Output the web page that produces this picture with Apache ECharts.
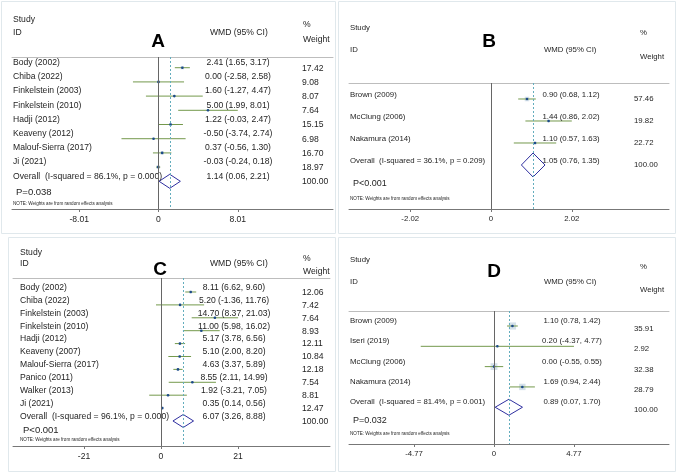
<!DOCTYPE html>
<html>
<head>
<meta charset="utf-8">
<script src="https://cdn.jsdelivr.net/npm/echarts@6/dist/echarts.min.js"></script>
<style>
html,body{margin:0;padding:0;background:#fff;}
#chart{width:677px;height:473px;}
</style>
</head>
<body>
<div id="chart"></div>
<script>
// ---------- Panel A ----------
const studiesA = ['Body (2002)','Chiba (2022)','Finkelstein (2003)','Finkelstein (2010)','Hadji (2012)','Keaveny (2012)','Malouf-Sierra (2017)','Ji (2021)'];
const wmdA  = [2.41, 0.00, 1.60, 5.00, 1.22, -0.50, 0.37, -0.03];
const lowA  = [1.65, -2.58, -1.27, 1.99, -0.03, -3.74, -0.56, -0.24];
const highA = [3.17, 2.58, 4.47, 8.01, 2.47, 2.74, 1.30, 0.18];
const weightA = [17.42, 9.08, 8.07, 7.64, 15.15, 6.98, 16.70, 18.97];
const overallA = [1.14, 0.06, 2.21];
const hetA = 'Overall  (I-squared = 86.1%, p = 0.000)';
const pA = 'P=0.038';
const ticksA = [-8.01, 0, 8.01];

// ---------- Panel B ----------
const studiesB = ['Brown (2009)','McClung (2006)','Nakamura (2014)'];
const wmdB  = [0.90, 1.44, 1.10];
const lowB  = [0.68, 0.86, 0.57];
const highB = [1.12, 2.02, 1.63];
const weightB = [57.46, 19.82, 22.72];
const overallB = [1.05, 0.76, 1.35];
const hetB = 'Overall  (I-squared = 36.1%, p = 0.209)';
const pB = 'P<0.001';
const ticksB = [-2.02, 0, 2.02];

// ---------- Panel C ----------
const studiesC = ['Body (2002)','Chiba (2022)','Finkelstein (2003)','Finkelstein (2010)','Hadji (2012)','Keaveny (2007)','Malouf-Sierra (2017)','Panico (2011)','Walker (2013)','Ji (2021)'];
const wmdC  = [8.11, 5.20, 14.70, 11.00, 5.17, 5.10, 4.63, 8.55, 1.92, 0.35];
const lowC  = [6.62, -1.36, 8.37, 5.98, 3.78, 2.00, 3.37, 2.11, -3.21, 0.14];
const highC = [9.60, 11.76, 21.03, 16.02, 6.56, 8.20, 5.89, 14.99, 7.05, 0.56];
const weightC = [12.06, 7.42, 7.64, 8.93, 12.11, 10.84, 12.18, 7.54, 8.81, 12.47];
const overallC = [6.07, 3.26, 8.88];
const hetC = 'Overall  (I-squared = 96.1%, p = 0.000)';
const pC = 'P<0.001';
const ticksC = [-21, 0, 21];

// ---------- Panel D ----------
const studiesD = ['Brown (2009)','Iseri (2019)','McClung (2006)','Nakamura (2014)'];
const wmdD  = [1.10, 0.20, 0.00, 1.69];
const lowD  = [0.78, -4.37, -0.55, 0.94];
const highD = [1.42, 4.77, 0.55, 2.44];
const weightD = [35.91, 2.92, 32.38, 28.79];
const overallD = [0.89, 0.07, 1.70];
const hetD = 'Overall  (I-squared = 81.4%, p = 0.001)';
const pD = 'P=0.032';
const ticksD = [-4.77, 0, 4.77];

const letters = ['A','B','C','D'];
const noteText = 'NOTE: Weights are from random effects analysis';
const FONT = '"Liberation Sans", Arial, sans-serif';
const TXT = '#1e1e1e';

const panels = [
  {studies:studiesA, wmd:wmdA, low:lowA, high:highA, weight:weightA, overall:overallA, het:hetA, p:pA, ticks:ticksA,
   grid:{left:12, width:321, top:57, height:152}, xmin:-14.80, xmax:17.63, ymin:-0.754, ymax:9.95,
   nameX:13, ciX:238, wX:302, labelDy:-5, weightDy:0.5, fs:8.6, boxScale:0.8, dHalf:7,
   hdr:{sx:13, sy:20, iy:33, lx:158, ly:42, wmdX:210, wmdY:33, px:303, py:25, wy:40, Px:16, Py:192, Ny:204, Pfs:9.5},
   border:[1,1,334,232]},
  {studies:studiesB, wmd:wmdB, low:lowB, high:highB, weight:weightB, overall:overallB, het:hetB, p:pB, ticks:ticksB,
   grid:{left:349, width:320, top:83, height:126}, xmin:-3.55, xmax:4.45, ymin:-0.727, ymax:5.0,
   nameX:350, ciX:571, wX:634, labelDy:-4, weightDy:0, fs:7.8, boxScale:0.6, dHalf:12,
   hdr:{sx:350, sy:28, iy:50, lx:489, ly:42, wmdX:544, wmdY:50, px:640, py:33, wy:57, Px:353, Py:184, Ny:199, Pfs:9},
   border:[338,1,337,232]},
  {studies:studiesC, wmd:wmdC, low:lowC, high:highC, weight:weightC, overall:overallC, het:hetC, p:pC, ticks:ticksC,
   grid:{left:13, width:317, top:278, height:168}, xmin:-40.36, xmax:46.09, ymin:-1.085, ymax:11.94,
   nameX:20, ciX:234, wX:302, labelDy:-4.5, weightDy:0.5, fs:8.6, boxScale:0.8, dHalf:6.5,
   hdr:{sx:20, sy:253, iy:264, lx:160, ly:270, wmdX:210, wmdY:264, px:303, py:259, wy:272, Px:23, Py:430, Ny:440, Pfs:9.5},
   border:[8,237,327,234]},
  {studies:studiesD, wmd:wmdD, low:lowD, high:highD, weight:weightD, overall:overallD, het:hetD, p:pD, ticks:ticksD,
   grid:{left:349, width:320, top:311, height:133}, xmin:-8.65, xmax:10.44, ymin:-0.739, ymax:5.81,
   nameX:350, ciX:572, wX:634, labelDy:-5, weightDy:3, fs:7.8, boxScale:1.2, dHalf:8,
   hdr:{sx:350, sy:260, iy:282, lx:494, ly:272, wmdX:544, wmdY:282, px:640, py:267, wy:290, Px:353, Py:421, Ny:434, Pfs:9},
   border:[338,237,337,234]}
];

function f2(v){ return v.toFixed(2); }
function ciText(e,l,h){ return f2(e) + ' (' + f2(l) + ', ' + f2(h) + ')'; }
function txt(x,y,text,size,align){
  return {type:'text', x:x, y:y, silent:true,
    style:{text:text, fill:TXT, font: size + 'px ' + FONT, verticalAlign:'middle', textAlign:align||'left'}};
}

const grids = [], xAxes = [], yAxes = [], series = [], graphics = [];

panels.forEach((P, k) => {
  grids.push(Object.assign({containLabel:false}, P.grid));
  xAxes.push({type:'value', gridIndex:k, min:P.xmin, max:P.xmax, position:'bottom',
    axisLine:{show:true, onZero:false, lineStyle:{color:'#777', width:1}},
    axisTick:{show:true, customValues:P.ticks, length:3, inside:false, lineStyle:{color:'#777'}},
    axisLabel:{show:true, customValues:P.ticks, margin:6, fontSize:P.fs, color:TXT, fontFamily:FONT,
      formatter:(v)=>String(v)},
    splitLine:{show:false}});
  xAxes.push({type:'value', gridIndex:k, min:P.xmin, max:P.xmax, position:'top',
    axisLine:{show:true, onZero:false, lineStyle:{color:'#bdbdbd', width:1}},
    axisTick:{show:false}, axisLabel:{show:false}, splitLine:{show:false}});
  yAxes.push({type:'value', gridIndex:k, min:P.ymin, max:P.ymax, inverse:true, show:false});

  const xi = k*2;
  series.push({type:'scatter', xAxisIndex:xi, yAxisIndex:k, data:[], silent:true,
    markLine:{symbol:'none', silent:true, animation:false, label:{show:false},
      data:[
        {xAxis:0, lineStyle:{color:'#666', type:'solid', width:1}},
        {xAxis:P.overall[0], lineStyle:{color:'#63adbd', type:[2,2], width:1}}
      ]}});
  series.push({type:'custom', xAxisIndex:xi, yAxisIndex:k, clip:false, silent:true,
    data: P.studies.map((s,i)=>[P.wmd[i], P.low[i], P.high[i], i, P.weight[i]]),
    renderItem:(params, api)=>{
      const i = params.dataIndex;
      const e = api.value(0), lo = api.value(1), hi = api.value(2), r = api.value(3), w = api.value(4);
      const pe = api.coord([e,r]), pl = api.coord([lo,r]), ph = api.coord([hi,r]);
      const y = pe[1];
      const b = P.boxScale*Math.sqrt(w);
      return {type:'group', children:[
        {type:'rect', shape:{x:pe[0]-b/2, y:y-b/2, width:b, height:b}, style:{fill:'#d5e1ea'}},
        {type:'line', shape:{x1:pl[0], y1:y, x2:ph[0], y2:y}, style:{stroke:'#74994c', lineWidth:1}},
        {type:'circle', shape:{cx:pe[0], cy:y, r:1.3}, style:{fill:'#1d4a8a'}},
        txt(P.nameX, y+P.labelDy, P.studies[i], P.fs),
        txt(P.ciX, y+P.labelDy, ciText(e,lo,hi), P.fs, 'center'),
        txt(P.wX, y+P.weightDy, f2(w), P.fs)
      ]};
    }});
  series.push({type:'custom', xAxisIndex:xi, yAxisIndex:k, clip:false, silent:true,
    data:[[P.overall[0], P.overall[1], P.overall[2], P.studies.length]],
    renderItem:(params, api)=>{
      const e = api.value(0), lo = api.value(1), hi = api.value(2), r = api.value(3);
      const pe = api.coord([e,r]), pl = api.coord([lo,r]), ph = api.coord([hi,r]);
      const y = pe[1], h = P.dHalf;
      return {type:'group', children:[
        {type:'polygon', shape:{points:[[pl[0],y],[pe[0],y-h],[ph[0],y],[pe[0],y+h]]}, style:{fill:'none', stroke:'#2f2fa0', lineWidth:1}},
        txt(P.nameX, y+P.labelDy, P.het, P.fs),
        txt(P.ciX, y+P.labelDy, ciText(e,lo,hi), P.fs, 'center'),
        txt(P.wX, y+P.weightDy, '100.00', P.fs)
      ]};
    }});

  const bd = P.border, H = P.hdr;
  graphics.push({type:'rect', silent:true, z:-1, shape:{x:bd[0]+0.5, y:bd[1]+0.5, width:bd[2], height:bd[3]}, style:{fill:'none', stroke:'#e0e8ec', lineWidth:1}});
  graphics.push(txt(H.sx, H.sy, 'Study', P.fs));
  graphics.push(txt(H.sx, H.iy, 'ID', P.fs));
  graphics.push({type:'text', x:H.lx, y:H.ly, silent:true, style:{text:letters[k], fill:'#000', font:'bold 19px ' + FONT, verticalAlign:'middle', textAlign:'center'}});
  graphics.push(txt(H.wmdX, H.wmdY, 'WMD (95% CI)', P.fs));
  graphics.push(txt(H.px, H.py, '%', P.fs));
  graphics.push(txt(H.px, H.wy, 'Weight', P.fs));
  graphics.push(txt(H.Px, H.Py, P.p, H.Pfs));
  graphics.push(txt(P.nameX, H.Ny, noteText, 4.6));
});

const chart = echarts.init(document.getElementById('chart'), null, {renderer:'canvas'});
chart.setOption({
  animation:false,
  backgroundColor:'#ffffff',
  grid:grids, xAxis:xAxes, yAxis:yAxes, series:series, graphic:graphics
});
</script>
</body>
</html>
